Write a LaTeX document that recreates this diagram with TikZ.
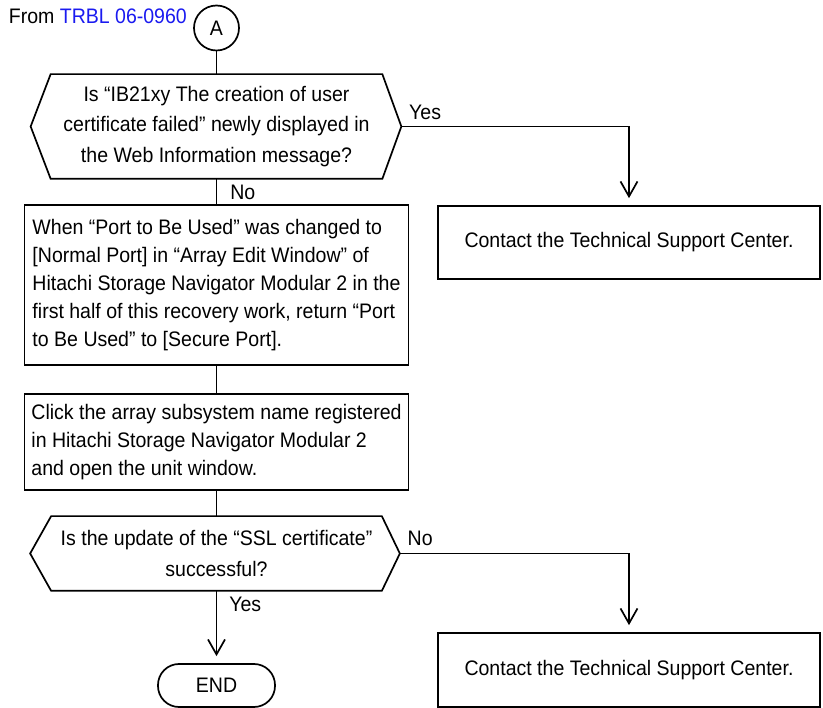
\documentclass[tikz,border=0pt]{standalone}
\usepackage{fontspec}
\setmainfont[FakeStretch=0.93]{Liberation Sans}
\usetikzlibrary{arrows.meta,positioning}
\definecolor{linkblue}{HTML}{1A1AF0}

\begin{document}
\begin{tikzpicture}[
    x=1pt, y=-1pt,
    line width=1.7pt,
    every node/.append style={font=\fontsize{21}{28}\selectfont},
    flow/.style={-{Straight Barb[length=15pt,width=17pt]}, shorten >=7pt},
    stepbox/.style={draw, rectangle, minimum width=384pt,
      inner xsep=4pt, align=left},
    decision/.style={rectangle, inner sep=0pt, align=center,
      font=\fontsize{21}{30.5}\selectfont},
    endbox/.style={draw, rounded corners=21pt, minimum width=117pt, minimum height=43pt},
    contact/.style={draw, rectangle, minimum width=382pt, minimum height=73pt},
    answer/.style={inner sep=0pt},
  ]
  \useasboundingbox (0,0) rectangle (823,708);

  % entry connector
  \node[anchor=west, inner sep=0pt] (from) at (8,16) {From \textcolor{linkblue}{TRBL 06-0960}};
  \node[draw, circle, minimum width=45pt, minimum height=43pt, inner sep=0pt] (A) at (216.5,28) {A};

  % first check
  \node[decision, minimum width=330pt, minimum height=103pt] (q1) at (216.5,126.5)
    {Is “IB21xy The creation of user\\certificate failed” newly displayed in\\the Web Information message?};
  \draw (q1.north west) -- (q1.north east) -- ([xshift=19pt]q1.east) coordinate (q1e)
    -- (q1.south east) -- (q1.south west) -- ([xshift=-20pt]q1.west) -- cycle;

  % recovery steps
  \node[stepbox, minimum height=160pt] (s1) at (216.5,285)
    {When “Port to Be Used” was changed to\\
     {[}Normal Port{]} in “Array Edit Window” of\\
     Hitachi Storage Navigator Modular 2 in the\\
     first half of this recovery work, return “Port\\
     to Be Used” to {[}Secure Port{]}.};
  \node[stepbox, minimum height=96pt] (s2) at (216.5,442)
    {Click the array subsystem name registered\\
     in Hitachi Storage Navigator Modular 2\\
     and open the unit window.};

  % second check
  \node[decision, minimum width=329pt, minimum height=73pt] (q2) at (216.5,553.5)
    {Is the update of the “SSL certificate”\\successful?};
  \draw (q2.north west) -- (q2.north east) -- ([xshift=18pt]q2.east) coordinate (q2e)
    -- (q2.south east) -- (q2.south west) -- ([xshift=-21pt]q2.west) -- cycle;

  \node[endbox] (end) at (216.5,685.5) {END};

  % support boxes
  \node[contact] (c1) at (629,242.5) {Contact the Technical Support Center.};
  \node[contact, minimum height=74pt] (c2) at (629,670) {Contact the Technical Support Center.};

  % connectors
  \draw (A) -- (q1);
  \draw (q1) -- (s1);
  \draw (s1) -- (s2);
  \draw (s2) -- (q2);
  \draw[flow] (q1e) -| (c1);
  \draw[flow] (q2e) -| (c2);
  \draw[flow] (q2) -- (end);

  % answers
  \node[answer, anchor=south west] (yes1) at ([xshift=7pt,yshift=6pt]q1e) {Yes};
  \node[answer, anchor=north west] (no1) at ([xshift=13pt,yshift=-5pt]q1.south) {No};
  \node[answer, anchor=south west] (no2) at ([xshift=7pt,yshift=7pt]q2e) {No};
  \node[answer, anchor=north west] (yes2) at ([xshift=12pt,yshift=-5pt]q2.south) {Yes};
\end{tikzpicture}
\end{document}
